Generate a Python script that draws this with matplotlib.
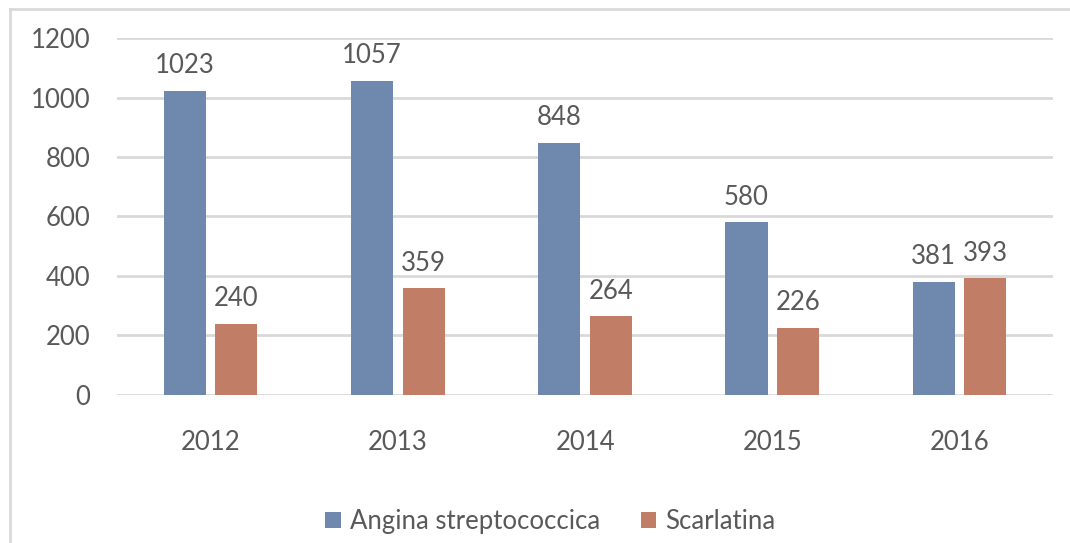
import matplotlib.pyplot as plt
import numpy as np
from matplotlib.lines import Line2D

years = ["2012", "2013", "2014", "2015", "2016"]
angina = [1023, 1057, 848, 580, 381]
scarlatina = [240, 359, 264, 226, 393]
series_names = ["Angina streptococcica", "Scarlatina"]
y_ticks = [0, 200, 400, 600, 800, 1000, 1200]

blue = "#6F89AE"
orange = "#C17D66"
text_grey = "#595959"
grid_grey = "#D9D9D9"

plt.rcParams["font.family"] = ["Lato", "DejaVu Sans"]

fig = plt.figure(figsize=(10.70, 5.43), dpi=100)
ax = fig.add_axes([0.1093, 0.2726, 0.875, 0.6574])

x = np.arange(len(years))
w = 0.225
off = 0.138
b1 = ax.bar(x - off, angina, w, color=blue, label=series_names[0], zorder=2)
b2 = ax.bar(x + off, scarlatina, w, color=orange, label=series_names[1], zorder=2)

for bars, vals in ((b1, angina), (b2, scarlatina)):
    for rect, v in zip(bars, vals):
        ax.annotate(str(v), (rect.get_x() + rect.get_width() / 2, v),
                    xytext=(0, 9), textcoords="offset points",
                    ha="center", va="bottom", fontsize=18.5, color=text_grey)

ax.set_xlim(-0.5, len(years) - 0.5)
ax.set_ylim(0, 1200)
ax.set_yticks(y_ticks)
ax.set_xticks(x)
ax.set_xticklabels(years)
ax.yaxis.grid(True, color=grid_grey, linewidth=2, zorder=0)
ax.set_axisbelow(True)
for s in ax.spines.values():
    s.set_visible(False)
ax.tick_params(axis="both", length=0, labelsize=18.5, labelcolor=text_grey)
ax.tick_params(axis="y", pad=19)
ax.tick_params(axis="x", pad=25)

ax.legend(loc="upper center", bbox_to_anchor=(0.463, -0.255), ncol=2, frameon=False,
          fontsize=18.5, labelcolor=text_grey, handlelength=0.6, handleheight=0.6,
          handletextpad=0.35, columnspacing=1.6)

# outer chart frame (only top and left edges visible)
fig.add_artist(Line2D([10 / 1070, 1], [1 - 9 / 543, 1 - 9 / 543], color=grid_grey,
                      linewidth=2, transform=fig.transFigure))
fig.add_artist(Line2D([10 / 1070, 10 / 1070], [0, 1 - 9 / 543], color=grid_grey,
                      linewidth=2, transform=fig.transFigure))

fig.savefig("out.png", dpi=100)
